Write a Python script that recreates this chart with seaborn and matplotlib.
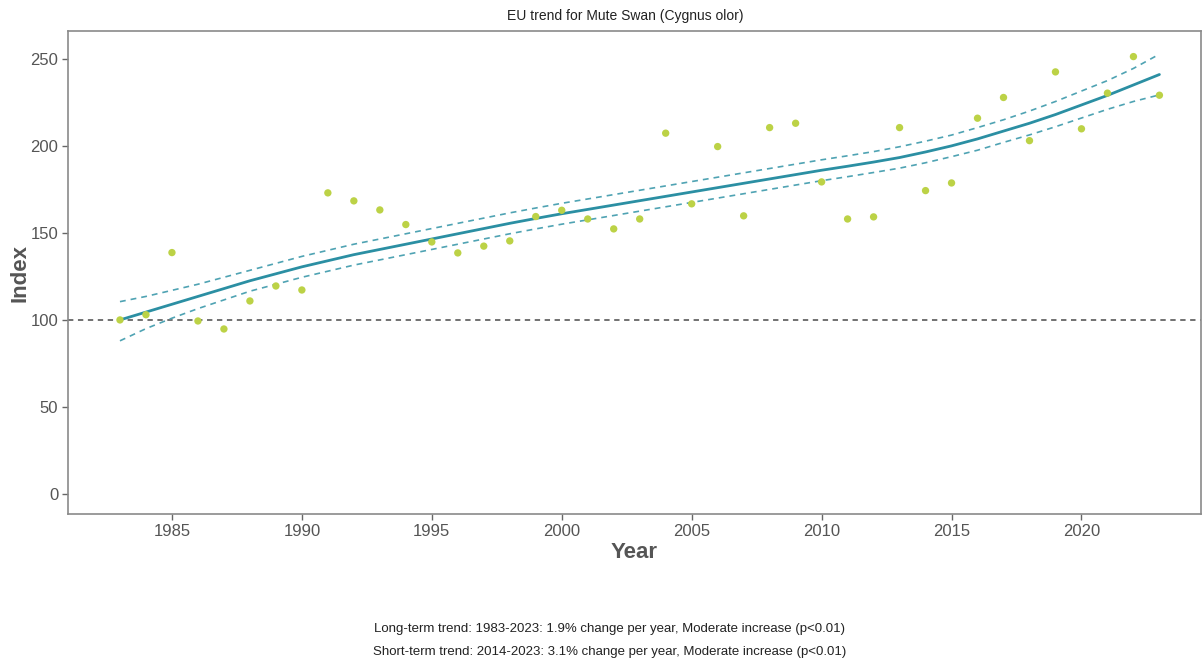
import numpy as np
import pandas as pd
import matplotlib
matplotlib.use("Agg")
import matplotlib.pyplot as plt
import seaborn as sns

years = list(range(1983, 2024))
index_values = [100, 103, 138.7, 99.4, 94.8, 110.9, 119.5, 117.2, 173, 168.4,
                163.2, 154.8, 144.8, 138.5, 142.4, 145.4, 159.4, 163, 158, 152.3,
                158, 207.3, 166.7, 199.6, 159.8, 210.5, 213, 179.3, 158, 159.2,
                210.5, 174.3, 178.7, 215.9, 227.8, 203, 242.5, 209.8, 230.3, 251.3,
                229.1]
trend = [100, 104.5, 109, 113.5, 118, 122.5, 126.5, 130.5, 134, 137.5,
         140.5, 143.5, 146.5, 149.5, 152.5, 155.5, 158.3, 161, 163.5, 166,
         168.5, 171, 173.5, 176, 178.5, 181, 183.5, 186, 188.3, 190.7,
         193.3, 196.5, 200, 204, 208.5, 213, 218, 223.5, 229, 235, 241]
upper = [110.5, 113.5, 117, 120.5, 124.5, 128.5, 132.5, 136.5, 140, 143.5,
         146.5, 149.5, 152.5, 155.5, 158.5, 161.5, 164.3, 167, 169.5, 172,
         174.5, 177, 179.5, 182, 184.5, 187, 189.5, 192, 194.3, 196.7,
         199.5, 202.7, 206.2, 210.5, 215, 220, 225.5, 231.5, 237.5, 244.5, 252.7]
lower = [88, 95, 101, 106.5, 111.5, 116.5, 120.5, 124.5, 128, 131.5,
         134.5, 137.5, 140.5, 143.5, 146.5, 149.5, 152.3, 155, 157.5, 160,
         162.5, 165, 167.5, 170, 172.5, 175, 177.5, 180, 182.3, 184.7,
         187.2, 190.3, 193.8, 197.5, 202, 206.3, 211, 216, 221, 225.5, 229.3]
baseline = 100
x_ticks = [1985, 1990, 1995, 2000, 2005, 2010, 2015, 2020]
y_ticks = [0, 50, 100, 150, 200, 250]

title = "EU trend for Mute Swan (Cygnus olor)"
note_long = "Long-term trend: 1983-2023: 1.9% change per year, Moderate increase (p<0.01)"
note_short = "Short-term trend: 2014-2023: 3.1% change per year, Moderate increase (p<0.01)"

sns.set_theme(style="white")
plt.rcParams['font.family'] = ['Liberation Sans', 'DejaVu Sans']

df = pd.DataFrame({"Year": years, "Index": index_values, "trend": trend,
                   "upper": upper, "lower": lower})

fig = plt.figure(figsize=(12.03, 6.61), dpi=100)
ax = fig.add_axes([68 / 1203, 147 / 661, 1133 / 1203, 483 / 661])

ax.axhline(baseline, color="#4a4a4a", linestyle=(0, (3.5, 3)), linewidth=1.1, zorder=1)
sns.lineplot(data=df, x="Year", y="upper", ax=ax, color="#4fa3b3",
             linestyle=(0, (3.5, 3)), linewidth=1.2, zorder=2)
sns.lineplot(data=df, x="Year", y="lower", ax=ax, color="#4fa3b3",
             linestyle=(0, (3.5, 3)), linewidth=1.2, zorder=2)
sns.lineplot(data=df, x="Year", y="trend", ax=ax, color="#2b8fa3",
             linewidth=2.0, zorder=3)
sns.scatterplot(data=df, x="Year", y="Index", ax=ax, color="#bcd246",
                s=28, edgecolor="none", zorder=4)

ax.set_xlim(1981.0, 2024.6)
ax.set_ylim(-11.5, 266)
ax.set_xticks(x_ticks)
ax.set_yticks(y_ticks)
ax.tick_params(axis="both", which="both", direction="out", length=4, width=1,
               color="#666666", labelcolor="#555555", labelsize=12, pad=3,
               bottom=True, left=True)
for sp in ax.spines.values():
    sp.set_color("#8a8a8a")
    sp.set_linewidth(1.2)

ax.set_xlabel("Year", fontsize=16, fontweight="bold", color="#555555", labelpad=2)
ax.set_ylabel("Index", fontsize=16, fontweight="bold", color="#555555")
ax.yaxis.label.set_verticalalignment("center")
ax.yaxis.set_label_coords(-(68 - 20) / 1133, 0.5)

fig.text(625 / 1203, 1 - 16 / 661, title, ha="center", va="center",
         fontsize=10, color="#222222")
fig.text(610 / 1203, 1 - 629 / 661, note_long, ha="center", va="center",
         fontsize=9.5, color="#222222")
fig.text(610 / 1203, 1 - 652 / 661, note_short, ha="center", va="center",
         fontsize=9.5, color="#222222")

fig.savefig("out.png", dpi=100)
